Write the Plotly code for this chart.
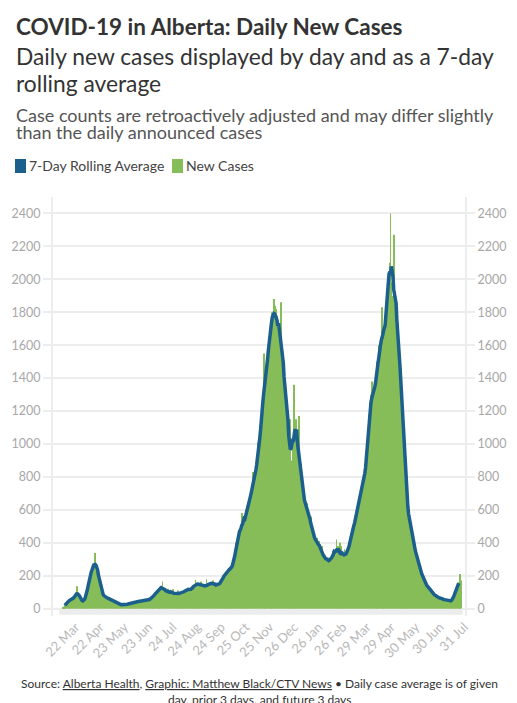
import pandas as pd
import plotly.graph_objects as go

# daily new cases, one value per day starting 5 Mar 2020
START = "2020-03-05"
new_cases = [
    3, 8, 12, 20, 25, 30, 40,
    45, 38, 55, 60, 48, 62, 58,
    60, 66, 72, 80, 88, 135, 100,
    85, 70, 55, 45, 40, 48, 42,
    45, 52, 65, 85, 110, 140, 170,
    200, 215, 240, 230, 255, 270, 250,
    338, 270, 255, 240, 215, 180, 140,
    120, 105, 90, 80, 72, 68, 70,
    66, 70, 62, 58, 64, 55, 52,
    50, 44, 40, 46, 38, 35, 32,
    30, 28, 26, 30, 24, 22, 25,
    22, 20, 26, 24, 21, 25, 28,
    27, 30, 32, 35, 31, 36, 38,
    40, 42, 38, 45, 48, 44, 46,
    44, 42, 47, 40, 46, 50, 43,
    45, 48, 52, 46, 50, 55, 60,
    58, 54, 62, 68, 72, 80, 90,
    95, 92, 110, 108, 125, 112, 128,
    130, 112, 165, 118, 108, 104, 110,
    102, 96, 120, 98, 104, 90, 95,
    92, 118, 88, 85, 98, 80, 90,
    86, 110, 92, 84, 95, 88, 100,
    98, 92, 105, 120, 110, 115, 128,
    105, 118, 112, 125, 108, 120, 130,
    140, 135, 175, 150, 145, 138, 152,
    148, 140, 165, 135, 130, 142, 128,
    132, 125, 178, 130, 140, 145, 150,
    155, 148, 160, 170, 145, 140, 150,
    142, 155, 135, 138, 150, 160, 148,
    165, 180, 175, 200, 215, 210, 225,
    220, 235, 215, 240, 230, 255, 250,
    250, 270, 265, 310, 330, 400, 410,
    430, 410, 460, 480, 500, 580, 460,
    520, 540, 510, 600, 620, 560, 590,
    640, 610, 690, 720, 680, 830, 740,
    780, 820, 760, 880, 900, 1010, 960,
    1020, 1080, 1150, 1120, 1260, 1550, 1300,
    1350, 1420, 1400, 1520, 1640, 1600, 1700,
    1720, 1800, 1760, 1700, 1880, 1840, 1750,
    1820, 1780, 1650, 1700, 1720, 1600, 1860,
    1550, 1480, 1500, 1420, 1350, 1300, 1250,
    1200, 1050, 1080, 980, 1150, 620, 900,
    980, 1100, 1360, 1050, 1150, 1000, 980,
    900, 1170, 820, 760, 880, 760, 680,
    720, 640, 600, 620, 600, 640, 580,
    560, 540, 560, 480, 450, 470, 430,
    420, 410, 400, 430, 380, 390, 410,
    360, 340, 380, 320, 300, 330, 310,
    290, 300, 280, 310, 295, 285, 270,
    300, 320, 350, 310, 340, 330, 360,
    420, 300, 380, 350, 400, 260, 380,
    330, 340, 290, 360, 320, 340, 310,
    330, 370, 360, 430, 400, 450, 460,
    500, 470, 540, 520, 580, 560, 620,
    600, 670, 660, 720, 700, 780, 720,
    780, 770, 860, 850, 980, 1020, 1180,
    1250, 1220, 1300, 1380, 1250, 1200, 1350,
    1350, 1420, 1380, 1500, 1450, 1600, 1520,
    1580, 1650, 1830, 1550, 1650, 1700, 1680,
    1750, 1820, 1900, 1980, 2050, 2100, 2400,
    1980, 1900, 1850, 2270, 1900, 1820, 1850,
    1800, 1700, 1650, 1550, 1500, 1400, 1300,
    1200, 1100, 1000, 900, 800, 700, 650,
    600, 540, 560, 500, 470, 490, 430,
    410, 390, 350, 360, 310, 320, 270,
    280, 240, 250, 210, 220, 180, 190,
    165, 170, 140, 150, 125, 135, 115,
    120, 100, 108, 90, 96, 80, 88,
    78, 82, 68, 74, 65, 70, 60,
    64, 56, 62, 54, 58, 50, 56,
    52, 48, 54, 44, 46, 40, 44,
    42, 52, 58, 78, 88, 112, 118,
    140, 130, 160, 150, 210, 170,
]

y_ticks = [0, 200, 400, 600, 800, 1000, 1200, 1400, 1600, 1800, 2000, 2200, 2400]

dates = pd.date_range(START, periods=len(new_cases), freq="D")
# average of given day, prior 3 days and future 3 days
rolling = pd.Series(new_cases).rolling(7, center=True).mean()

BLUE = "#1b5f8c"
GREEN = "#86bd58"
GREY = "#a8a8a8"
FONT = "Lato"

fig = go.Figure()
fig.add_trace(go.Bar(x=dates, y=new_cases, name="New Cases",
                     marker=dict(color=GREEN, line=dict(width=0)), showlegend=False))
fig.add_trace(go.Scatter(x=dates, y=rolling, name="7-Day Rolling Average", yaxis="y2",
                         mode="lines", line=dict(color=BLUE, width=3.5),
                         showlegend=False))

# page body has an 8px margin, so the figure is drawn 8px smaller and shifted
OFF = 8
W, H = 517 - OFF, 703 - OFF
L, R, T, B = 53 - OFF, 517 - 465, 197 - OFF, 703 - 616
pw, ph = W - L - R, H - T - B


def px(x):
    return (x - OFF - L) / pw


def py(y):
    return (H - B - (y - OFF)) / ph


yax = dict(range=[-45, 2500], tickvals=y_ticks, showgrid=True, gridcolor="#ededed",
           gridwidth=2, zeroline=False, showline=True, linecolor="#ededed", linewidth=2,
           ticks="outside", ticklen=8, tickcolor="#ededed", tickwidth=2, automargin=False,
           tickfont=dict(family=FONT, size=12.5, color=GREY), fixedrange=True)

fig.update_layout(
    width=W, height=H,
    margin=dict(l=L, r=R, t=T, b=B),
    paper_bgcolor="white", plot_bgcolor="white",
    bargap=0.12,
    xaxis=dict(range=["2020-02-22", "2021-08-01"], tick0="2020-03-22",
               dtick=31 * 86400000, tickformat="%d %b", tickangle=-45,
               tickfont=dict(family=FONT, size=13, color="#b8b8b8"), automargin=False,
               showgrid=False, zeroline=False, showline=False, ticks=""),
    yaxis=dict(yax, side="left"),
    yaxis2=dict(yax, side="right", overlaying="y", showgrid=False),
    showlegend=False,
)

# light band under the bars
fig.add_shape(type="rect", xref="x", yref="y",
              x0=dates[0] - pd.Timedelta(days=4), x1=dates[-1] + pd.Timedelta(days=2),
              y0=-38, y1=-8, fillcolor="#ececec", line=dict(width=0), layer="below")

# (x, centre y, text, size, colour) in reference pixels
texts = [
    (14, 26, "<b>COVID-19 in Alberta: Daily New Cases</b>", 22.5, "#333333"),
    (14, 56, "Daily new cases displayed by day and as a 7-day", 22.8, "#333333"),
    (14, 83, "rolling average", 22.8, "#333333"),
    (14, 115, "Case counts are retroactively adjusted and may differ slightly", 18, "#555555"),
    (14, 132, "than the daily announced cases", 18, "#555555"),
]
for x, y, t, s, c in texts:
    fig.add_annotation(text=t, x=px(x), y=py(y), xref="paper", yref="paper",
                       xanchor="left", yanchor="middle", showarrow=False, align="left",
                       font=dict(family=FONT, size=s, color=c))

# legend swatches
for x0, color, label in [(15, BLUE, "7-Day Rolling Average"), (172, GREEN, "New Cases")]:
    fig.add_shape(type="rect", xref="paper", yref="paper",
                  x0=px(x0), x1=px(x0 + 11), y0=py(173), y1=py(159),
                  fillcolor=color, line=dict(width=0))
    fig.add_annotation(text=label, x=px(x0 + 12), y=py(166), xref="paper", yref="paper",
                       xanchor="left", yanchor="middle", showarrow=False,
                       font=dict(family=FONT, size=14, color="#444444"))

footer = [
    (683, "Source: <span style='text-decoration:underline'>Alberta Health</span>, "
          "<span style='text-decoration:underline'>Graphic: Matthew Black/CTV News</span>"
          " • Daily case average is of given"),
    (699, "day, prior 3 days, and future 3 days"),
]
for y, t in footer:
    fig.add_annotation(text=t, x=px(259), y=py(y), xref="paper", yref="paper",
                       xanchor="center", yanchor="middle", showarrow=False,
                       font=dict(family=FONT, size=12, color="#333333"))

fig.write_html("out.html")
